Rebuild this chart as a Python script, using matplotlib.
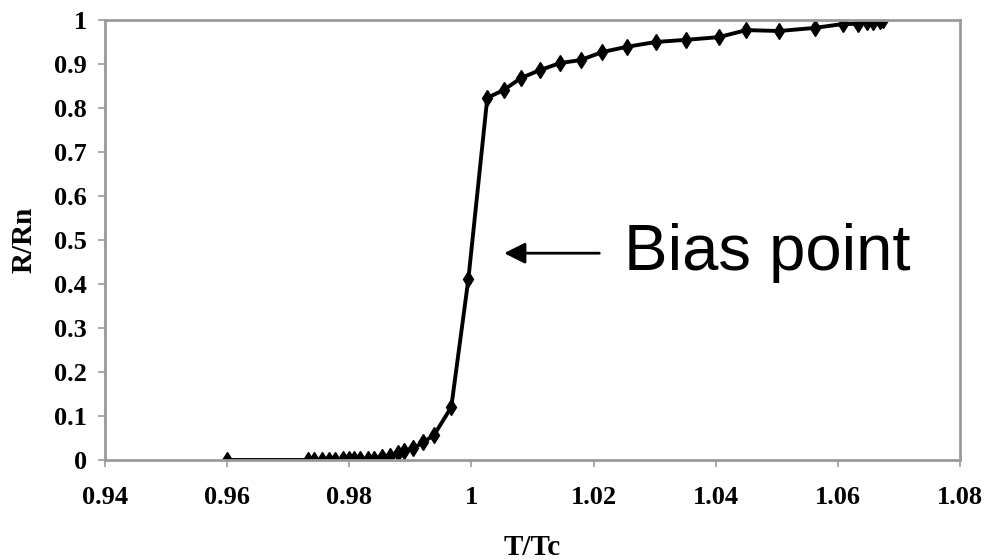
import numpy as np
import matplotlib
matplotlib.use('Agg')
import matplotlib.pyplot as plt
from matplotlib.ticker import FixedLocator, FuncFormatter

# T/Tc and R/Rn
t_tc = [0.960, 0.9732, 0.9743, 0.9755, 0.9766, 0.9777, 0.9789, 0.9799, 0.9808,
        0.9818, 0.9830, 0.9841, 0.9854, 0.9867, 0.9879, 0.9890, 0.9905, 0.9921,
        0.9939, 0.9967, 0.9995, 1.0026, 1.0053, 1.0081, 1.0112, 1.0145, 1.0179,
        1.0214, 1.0254, 1.0302, 1.0352, 1.0405, 1.0450, 1.0504, 1.0562, 1.0609,
        1.0633, 1.0647, 1.0658, 1.0669, 1.0674]
r_rn = [0.000, 0.000, 0.000, 0.000, 0.001, 0.001, 0.003, 0.002, 0.002,
        0.002, 0.002, 0.003, 0.006, 0.010, 0.015, 0.020, 0.027, 0.040,
        0.057, 0.120, 0.411, 0.823, 0.841, 0.868, 0.886, 0.902, 0.909,
        0.927, 0.939, 0.950, 0.955, 0.961, 0.977, 0.975, 0.982, 0.991,
        0.991, 0.995, 0.995, 0.998, 1.000]

x_ticks = [0.94, 0.96, 0.98, 1.00, 1.02, 1.04, 1.06, 1.08]
y_ticks = [0, 0.1, 0.2, 0.3, 0.4, 0.5, 0.6, 0.7, 0.8, 0.9, 1.0]

fig = plt.figure(figsize=(9.85, 5.6), dpi=100)
ax = fig.add_axes([0.1066, 0.1786, 0.8680, 0.7857])

ax.plot(t_tc, r_rn, color='black', lw=2.8, marker='d', ms=8, mfc='black', mec='black')

ax.set_xlim(0.94, 1.08)
ax.set_ylim(0, 1)
ax.xaxis.set_major_locator(FixedLocator(x_ticks))
ax.yaxis.set_major_locator(FixedLocator(y_ticks))
fmt = FuncFormatter(lambda v, p: ('%g' % round(v, 2)))
ax.xaxis.set_major_formatter(fmt)
ax.yaxis.set_major_formatter(fmt)

for s in ax.spines.values():
    s.set_color('#9a9a9a')
    s.set_linewidth(2)
ax.tick_params(direction='out', length=5, width=1.2, color='#9a9a9a', pad=8)
for lab in ax.get_xticklabels() + ax.get_yticklabels():
    lab.set_family('Liberation Serif')
    lab.set_weight('bold')
    lab.set_fontsize(19)
ax.tick_params(axis='x', pad=14)

ax.set_xlabel('T/Tc', family='Liberation Serif', weight='bold', fontsize=21, labelpad=18)
ax.set_ylabel('R/Rn', family='Liberation Serif', weight='bold', fontsize=21, labelpad=12)

ax.annotate('', xy=(1.0049, 0.47), xytext=(1.0214, 0.47),
            arrowprops=dict(arrowstyle='-|>', color='black', lw=2, mutation_scale=32))
ax.text(1.0250, 0.47, 'Bias point', family='Liberation Sans', fontsize=47,
        va='center', ha='left')

fig.savefig('out.png', dpi=100)
